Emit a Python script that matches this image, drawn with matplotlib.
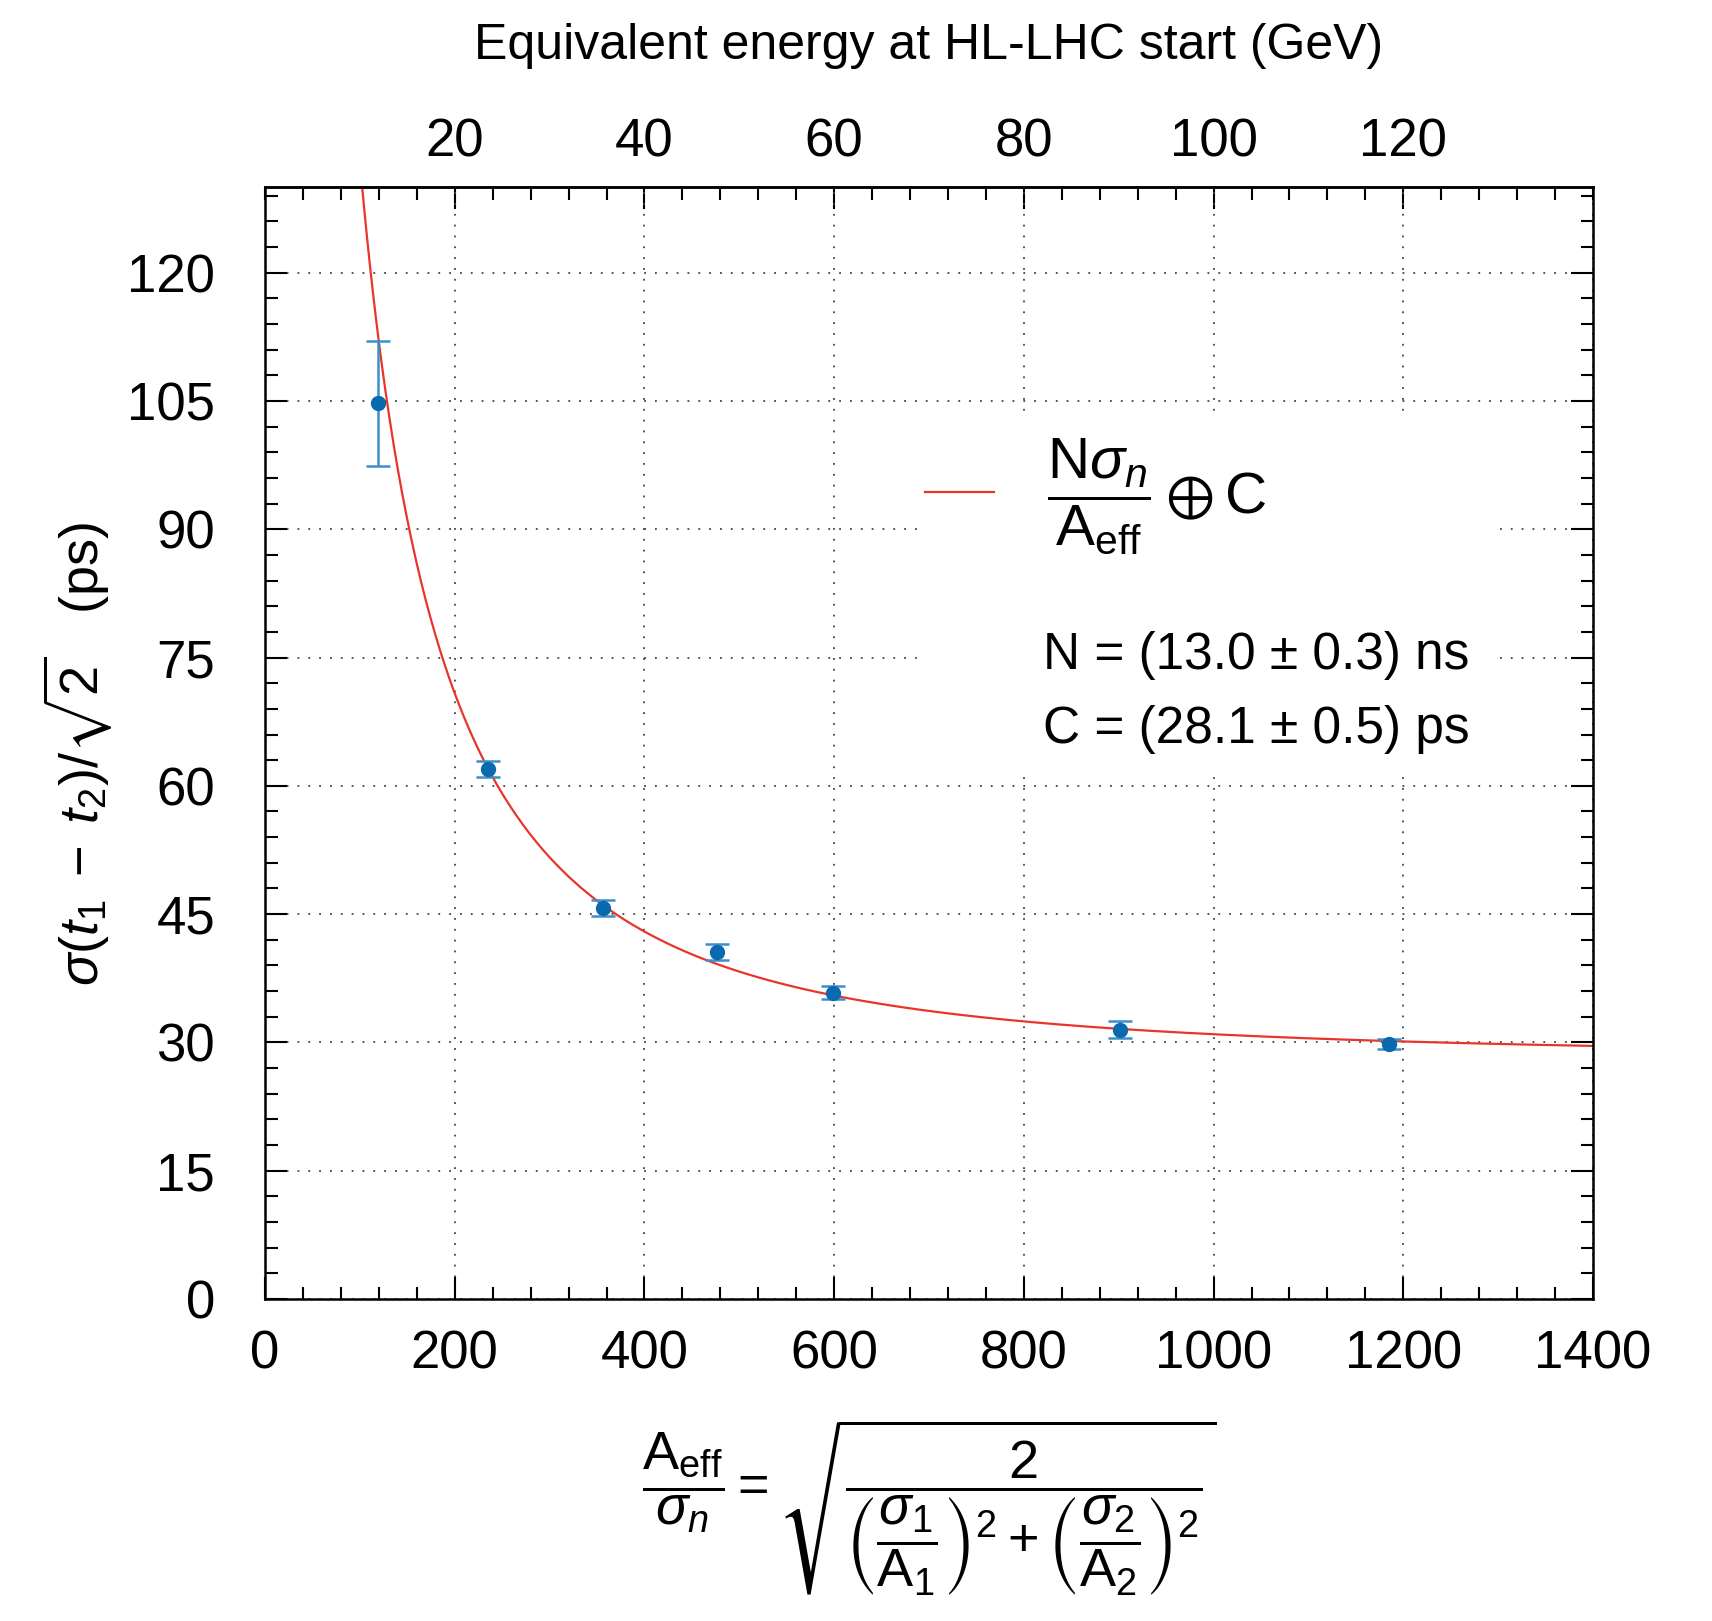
import numpy as np
import matplotlib
matplotlib.use("Agg")
import matplotlib.pyplot as plt
from matplotlib.ticker import MultipleLocator, FixedLocator
from matplotlib.patches import Rectangle
from matplotlib.lines import Line2D

plt.rcParams['font.family'] = ['Liberation Sans', 'DejaVu Sans']
plt.rcParams['mathtext.fontset'] = 'custom'
plt.rcParams['mathtext.rm'] = 'Liberation Sans'
plt.rcParams['mathtext.it'] = 'Liberation Sans:italic'
plt.rcParams['mathtext.bf'] = 'Liberation Sans:bold'
plt.rcParams['mathtext.sf'] = 'Liberation Sans'
plt.rcParams['mathtext.fallback'] = 'stixsans'

# Measured resolution vs effective amplitude over noise
aeff_over_sigma = [119, 235, 356, 476, 599, 901, 1185]
time_resolution = [104.7, 62.0, 45.7, 40.6, 35.8, 31.5, 29.8]
resolution_err = [7.3, 0.95, 0.95, 0.95, 0.75, 0.95, 0.55]

# Fit parameters: sigma = N*sigma_n/A_eff (+) C
fit_N_ns = 13.0
fit_C_ps = 28.1

x_ticks = [0, 200, 400, 600, 800, 1000, 1200, 1400]
y_ticks = [0, 15, 30, 45, 60, 75, 90, 105, 120]
energy_ticks = [20, 40, 60, 80, 100, 120]
aeff_per_gev = 10.0

fs_tick = 38
fs_label = 36

fig = plt.figure(figsize=(17.12, 16.21), dpi=100)
ax = fig.add_axes([0.1548, 0.1986, 0.7757, 0.686])
ax.set_xlim(0, 1400)
ax.set_ylim(0, 130)
ax.set_axisbelow(True)

# fitted curve
xs = np.linspace(60, 1400, 800)
ys = np.sqrt((fit_N_ns * 1000.0 / xs) ** 2 + fit_C_ps ** 2)
ax.plot(xs, ys, color='#e8352b', lw=1.6, zorder=2)

# data points
ax.errorbar(aeff_over_sigma, time_resolution, yerr=resolution_err, fmt='none',
            ecolor='#3d8fcc', elinewidth=1.8, capsize=8.5, capthick=1.8, zorder=3)
ax.plot(aeff_over_sigma, time_resolution, 'o', color='#0a6aae', ms=10, zorder=4)

# ticks and grid
ax.xaxis.set_major_locator(FixedLocator(x_ticks))
ax.xaxis.set_minor_locator(MultipleLocator(40))
ax.yaxis.set_major_locator(FixedLocator(y_ticks))
ax.yaxis.set_minor_locator(MultipleLocator(3))
ax.tick_params(axis='both', which='both', direction='in', top=False, right=True,
               width=1.5, colors='black')
ax.tick_params(axis='both', which='major', length=16, labelsize=fs_tick)
ax.tick_params(axis='both', which='minor', length=9)
ax.tick_params(axis='y', which='major', pad=36)
ax.tick_params(axis='x', which='major', pad=22)
ax.grid(True, which='major', linestyle=(0, (1, 5)), color='#444444', lw=1.3)
for s in ax.spines.values():
    s.set_linewidth(1.8)

# secondary energy axis
sec = ax.secondary_xaxis('top', functions=(lambda a: a / aeff_per_gev,
                                           lambda e: e * aeff_per_gev))
sec.xaxis.set_major_locator(FixedLocator(energy_ticks))
sec.xaxis.set_minor_locator(MultipleLocator(4))
sec.tick_params(which='both', direction='in', width=1.5)
sec.tick_params(which='major', length=16, labelsize=fs_tick, pad=14)
sec.tick_params(which='minor', length=9)
sec.spines['top'].set_linewidth(1.8)
sec.set_xlabel('Equivalent energy at HL-LHC start (GeV)', fontsize=fs_label, labelpad=42)

# y label
ax.set_ylabel(r'$\sigma(t_1\;-\;t_2)/\sqrt{2}$   (ps)', fontsize=39)
ax.yaxis.set_label_coords(-0.113, 0.49)

# x label (formula)
fig.text(0.5426, 0.1255,
         r'$\dfrac{\mathrm{A_{eff}}}{\sigma_n} = \sqrt{\dfrac{2}{\left(\dfrac{\sigma_1}{\mathrm{A_1}}\right)^2 + \left(\dfrac{\sigma_2}{\mathrm{A_2}}\right)^2}}$',
         fontsize=39, ha='center', va='top')

# legend area
ax.add_patch(Rectangle((0.492, 0.472), 0.436, 0.322, transform=ax.transAxes,
                       facecolor='white', edgecolor='none', zorder=1))
handle = Line2D([], [], color='#e8352b', lw=1.6)
leg = ax.legend([handle], [r'$\dfrac{\mathrm{N}\sigma_n}{\mathrm{A_{eff}}} \oplus \mathrm{C}$'],
                loc='center left', bbox_to_anchor=(0.497, 0.722), frameon=False,
                fontsize=42, handlelength=1.18, handletextpad=0.91, borderpad=0,
                borderaxespad=0)
ax.text(0.5856, 0.567, 'N = (13.0 ± 0.3) ns', transform=ax.transAxes,
        fontsize=37, ha='left', va='baseline', zorder=5)
ax.text(0.5856, 0.500, 'C = (28.1 ± 0.5) ps', transform=ax.transAxes,
        fontsize=37, ha='left', va='baseline', zorder=5)

fig.savefig('out.png', dpi=100)
